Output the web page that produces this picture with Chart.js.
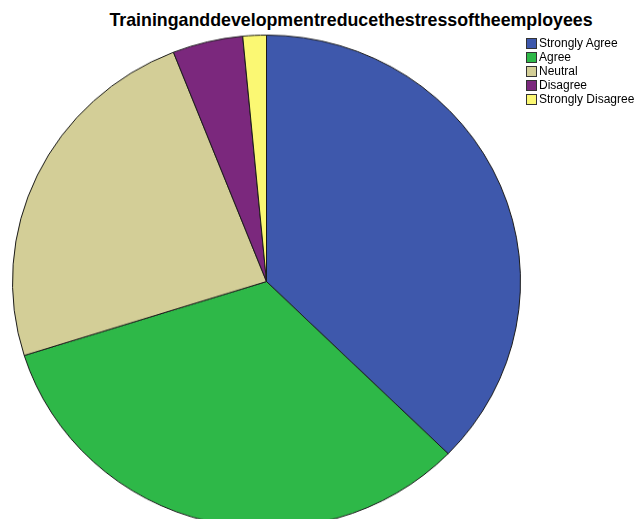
<!DOCTYPE html>
<html>
<head>
<meta charset="utf-8">
<script src="https://cdn.jsdelivr.net/npm/chart.js@4/dist/chart.umd.min.js"></script>
<style>
  html, body { margin: 0; padding: 0; background: #fff; overflow: hidden; }
  body { width: 634px; height: 519px; position: relative; font-family: "Liberation Sans", Arial, sans-serif; }
  /* pie is drawn a touch flatter than wide */
  #wrap { position: absolute; left: 0; top: -1px; width: 634px; height: 540px; transform: scaleY(0.97); transform-origin: 266px 282px; }
  #title { position: absolute; left: 0; width: 702px; top: 10px; text-align: center; font-weight: bold; font-size: 17.8px; color: #000; white-space: nowrap; }
  #legend { position: absolute; left: 526px; top: 36px; font-size: 12px; color: #000; }
  .item { height: 14px; line-height: 14px; display: flex; align-items: center; white-space: nowrap; }
  .box { width: 9px; height: 9px; border: 1px solid #333; margin-right: 2px; }
</style>
</head>
<body>
<div id="title">Traininganddevelopmentreducethestressoftheemployees</div>
<div id="wrap"><canvas id="chart"></canvas></div>
<div id="legend"></div>
<script>
const labels = ["Strongly Agree", "Agree", "Neutral", "Disagree", "Strongly Disagree"];
const counts = [25, 22, 16, 3, 1];
const colors = ["#3e58ac", "#2eb848", "#d3ce97", "#7b287d", "#fbf873"];

new Chart(document.getElementById("chart"), {
  type: "pie",
  data: {
    labels: labels,
    datasets: [{
      data: counts,
      backgroundColor: colors,
      borderColor: "#1a1a1a",
      borderWidth: 1,
    }],
  },
  options: {
    responsive: true,
    maintainAspectRatio: false,
    animation: false,
    layout: { padding: { left: 12, right: 113, top: 28, bottom: 3 } },
    plugins: {
      legend: { display: false },
      tooltip: { enabled: false },
    },
  },
});

// legend on the right, same order as the slices
document.getElementById("legend").innerHTML = labels
  .map((l, i) => `<div class="item"><span class="box" style="background:${colors[i]}"></span>${l}</div>`)
  .join("");
</script>
</body>
</html>
